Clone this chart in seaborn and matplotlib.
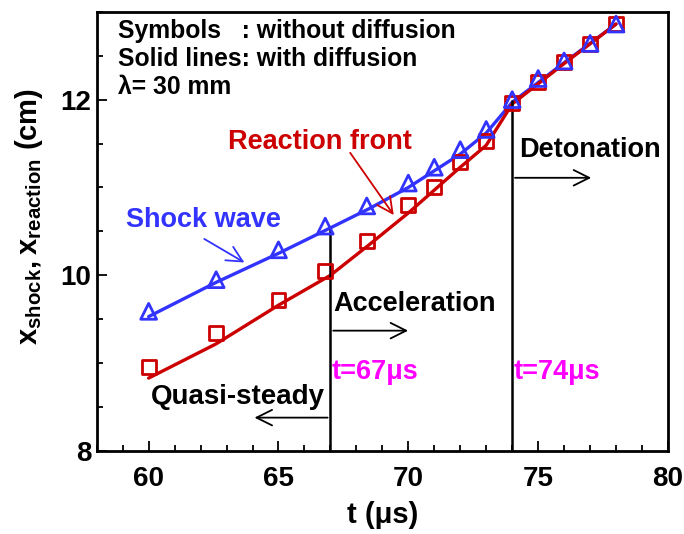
import matplotlib
matplotlib.use('Agg')
import matplotlib.pyplot as plt
import seaborn as sns
import pandas as pd
from matplotlib.ticker import MultipleLocator

# symbols: without diffusion
t_sym = [60, 62.6, 65, 66.8, 68.4, 70, 71, 72, 73, 74, 75, 76, 77, 78]
shock_sym = [9.59, 9.95, 10.29, 10.56, 10.79, 11.05, 11.23, 11.43, 11.66, 12.0, 12.24, 12.44, 12.64, 12.86]
reac_sym = [8.96, 9.34, 9.72, 10.05, 10.39, 10.80, 11.01, 11.29, 11.53, 11.96, 12.20, 12.43, 12.63, 12.86]

# solid lines: with diffusion
t_line = [60, 62.6, 65, 67, 68.5, 70, 72, 73, 74, 76, 78]
shock_line = [9.53, 9.92, 10.25, 10.54, 10.76, 11.0, 11.38, 11.62, 11.97, 12.42, 12.86]
reac_line = [8.83, 9.22, 9.66, 10.0, 10.35, 10.71, 11.23, 11.48, 11.95, 12.41, 12.86]

# regime boundaries
t_bound = [67, 74]
bound_top = [10.55, 11.99]
bound_labels = ['t=67\u03bcs', 't=74\u03bcs']

blue = '#3333FF'
red = '#CC0000'

sns.set_style('ticks')
plt.rcParams['font.family'] = ['Liberation Sans', 'DejaVu Sans']
plt.rcParams['font.weight'] = 'bold'
plt.rcParams['mathtext.fontset'] = 'custom'
plt.rcParams['mathtext.bf'] = 'Liberation Sans:bold'
plt.rcParams['mathtext.rm'] = 'Liberation Sans:bold'
for key in ['text.color', 'axes.labelcolor', 'xtick.color', 'ytick.color', 'axes.edgecolor']:
    plt.rcParams[key] = 'black'

fig = plt.figure(figsize=(6.84, 5.34), dpi=100)
ax = fig.add_axes([0.1414, 0.1554, 0.8352, 0.8226])

df_sym = pd.DataFrame({'t': t_sym, 'shock': shock_sym, 'reac': reac_sym})
df_line = pd.DataFrame({'t': t_line, 'shock': shock_line, 'reac': reac_line})

sns.lineplot(data=df_line, x='t', y='shock', color=blue, lw=2.4, ax=ax)
sns.lineplot(data=df_line, x='t', y='reac', color=red, lw=2.4, ax=ax)
sns.scatterplot(data=df_sym, x='t', y='reac', marker='s', s=100, facecolors='none',
                edgecolor=red, linewidth=2, ax=ax, zorder=4)
sns.scatterplot(data=df_sym, x='t', y='shock', marker='^', s=130, facecolors='none',
                edgecolor=blue, linewidth=2, ax=ax, zorder=5)

ax.vlines(t_bound, 8, bound_top, color='k', lw=1.8, zorder=3)
for tb, lab in zip(t_bound, bound_labels):
    ax.text(tb + 0.05, 8.9, lab, color='#FF00FF', fontsize=19.5, fontweight='bold', va='center')

arrow = dict(arrowstyle='->', color='k', lw=1.3, mutation_scale=28)
ax.annotate('', xy=(70.1, 9.37), xytext=(67, 9.37), arrowprops=arrow)
ax.annotate('', xy=(77.15, 11.11), xytext=(74, 11.11), arrowprops=arrow)
ax.annotate('', xy=(63.97, 8.38), xytext=(67, 8.38), arrowprops=arrow)
ax.text(67.1, 9.67, 'Acceleration', fontsize=19.5, fontweight='bold', va='center')
ax.text(74.25, 11.43, 'Detonation', fontsize=19.5, fontweight='bold', va='center')
ax.text(60.08, 8.62, 'Quasi-steady', fontsize=20, fontweight='bold', va='center')

ax.text(59.13, 10.63, 'Shock wave', color=blue, fontsize=19.5, fontweight='bold', va='center')
ax.annotate('', xy=(63.78, 10.13), xytext=(62.05, 10.43),
            arrowprops=dict(arrowstyle='->', color=blue, lw=1.3, mutation_scale=28))
ax.text(63.05, 11.52, 'Reaction front', color=red, fontsize=19.5, fontweight='bold', va='center')
ax.annotate('', xy=(69.5, 10.66), xytext=(67.7, 11.42),
            arrowprops=dict(arrowstyle='->', color=red, lw=1.3, mutation_scale=28))

ax.text(58.82, 12.78, 'Symbols   : without diffusion', fontsize=17.8, fontweight='bold', va='center')
ax.text(58.82, 12.46, 'Solid lines: with diffusion', fontsize=17.8, fontweight='bold', va='center')
ax.text(58.82, 12.14, '\u03bb= 30 mm', fontsize=17.8, fontweight='bold', va='center')

ax.set_xlim(58, 80)
ax.set_ylim(8, 13)
ax.xaxis.set_major_locator(MultipleLocator(5))
ax.xaxis.set_minor_locator(MultipleLocator(1))
ax.yaxis.set_major_locator(MultipleLocator(2))
ax.yaxis.set_minor_locator(MultipleLocator(0.5))
ax.tick_params(which='both', direction='in', width=1.3, labelsize=20)
ax.tick_params(which='major', length=7)
ax.tick_params(which='minor', length=4)
ax.tick_params(axis='x', pad=11)
ax.tick_params(axis='y', pad=4)
for lab in ax.get_xticklabels() + ax.get_yticklabels():
    lab.set_fontweight('bold')
for sp in ax.spines.values():
    sp.set_linewidth(2)
    sp.set_visible(True)

ax.set_xlabel('t (\u03bcs)', fontsize=21, fontweight='bold', labelpad=6)
ax.set_ylabel(r'$\mathbf{x_{shock}, x_{reaction}}$ (cm)', fontsize=21, fontweight='bold')
ax.yaxis.set_label_coords(-0.09, 0.535)

fig.savefig('out.png', dpi=100)
